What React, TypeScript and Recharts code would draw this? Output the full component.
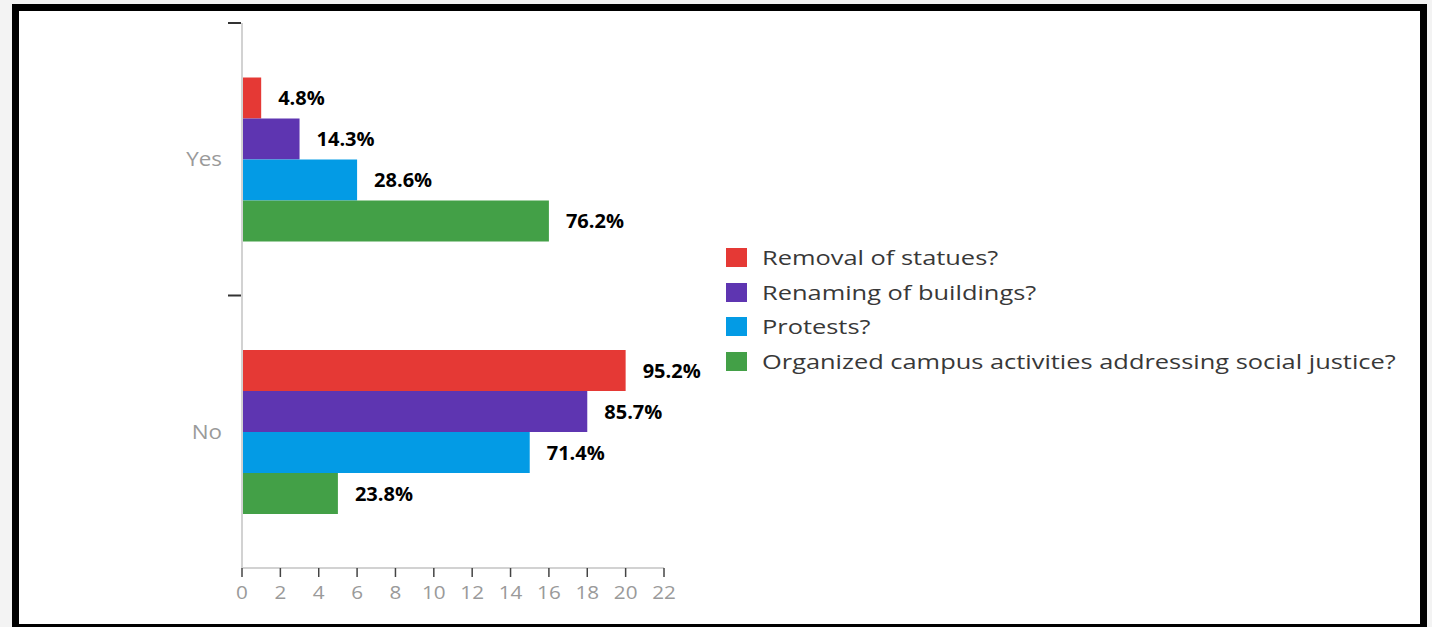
import { BarChart, Bar, XAxis, YAxis, LabelList, Legend } from 'recharts';

// survey answers, 21 respondents
const categories = ['Yes', 'No'];
const seriesNames = [
  'Removal of statues?',
  'Renaming of buildings?',
  'Protests?',
  'Organized campus activities addressing social justice?',
];
const removalCounts = [1, 20];
const renamingCounts = [3, 18];
const protestCounts = [6, 15];
const activityCounts = [16, 5];
const removalPct = ['4.8%', '95.2%'];
const renamingPct = ['14.3%', '85.7%'];
const protestPct = ['28.6%', '71.4%'];
const activityPct = ['76.2%', '23.8%'];
const xTicks = [0, 2, 4, 6, 8, 10, 12, 14, 16, 18, 20, 22];

const seriesColors = ['#E53935', '#5E35B1', '#039BE5', '#43A047'];
const seriesKeys = ['removal', 'renaming', 'protest', 'activity'];

const data = categories.map((cat, i) => ({
  cat,
  removal: removalCounts[i],
  renaming: renamingCounts[i],
  protest: protestCounts[i],
  activity: activityCounts[i],
  removalPct: removalPct[i],
  renamingPct: renamingPct[i],
  protestPct: protestPct[i],
  activityPct: activityPct[i],
}));

const FONT = '"Open Sans", sans-serif';
const AXIS_GREY = '#d2d2d2';
const TICK_TEXT = '#9a9a9a';
const CAT_MARGIN = 20;

// category label + the short dark tick at the top edge of each band
function CategoryTick(props: any) {
  const { x, y, payload } = props;
  const axisX = x + CAT_MARGIN;
  const edgeY = y - (payload.offset || 0);
  return (
    <g>
      <line x1={axisX - 14} x2={axisX - 1} y1={edgeY} y2={edgeY} stroke="#333" strokeWidth={2} />
      <g transform={`translate(${x},${y}) scale(1.12,1)`}>
        <text x={0} y={0} dy="0.35em" textAnchor="end" fill={TICK_TEXT} fontSize={20} fontFamily={FONT}>
          {payload.value}
        </text>
      </g>
    </g>
  );
}

function NumberTick(props: any) {
  const { x, y, payload } = props;
  return (
    <g transform={`translate(${x},${y}) scale(1.15,1)`}>
      <text x={0} y={0} dy="0.35em" textAnchor="middle" fill={TICK_TEXT} fontSize={18} fontFamily={FONT}>
        {payload.value}
      </text>
    </g>
  );
}

function renderLegend() {
  return (
    <div style={{ fontFamily: FONT }}>
      {seriesNames.map((name, i) => (
        <div key={name} style={{ display: 'flex', alignItems: 'center', height: 34.7 }}>
          <span
            style={{
              display: 'inline-block',
              width: 21,
              height: 19,
              background: seriesColors[i],
              marginRight: 15,
              flexShrink: 0,
            }}
          />
          <span
            style={{
              display: 'inline-block',
              fontSize: 20,
              color: '#383838',
              whiteSpace: 'nowrap',
              transform: 'scaleX(1.27)',
              transformOrigin: 'left center',
            }}
          >
            {name}
          </span>
        </div>
      ))}
    </div>
  );
}

export default function App() {
  return (
    <div
      style={{
        position: 'absolute',
        left: 0,
        top: 0,
        width: 1432,
        height: 627,
        overflow: 'hidden',
        background: '#f3f3f3',
      }}
    >
      <div
        style={{
          position: 'absolute',
          left: 12,
          top: 4,
          width: 1415,
          height: 627,
          boxSizing: 'border-box',
          border: '7px solid #000',
          background: '#fff',
        }}
      />
      <div style={{ position: 'absolute', left: 0, top: 0 }}>
        <BarChart
          width={1432}
          height={627}
          data={data}
          layout="vertical"
          margin={{ top: 23, right: 768, bottom: 19, left: 0 }}
          barCategoryGap="20%"
          barGap={0}
        >
          <XAxis
            type="number"
            domain={[0, 22]}
            ticks={xTicks}
            interval={0}
            height={40}
            axisLine={{ stroke: AXIS_GREY, strokeWidth: 2 }}
            tickLine={{ stroke: '#444', strokeWidth: 1.5 }}
            tickSize={9}
            tickMargin={16}
            tick={<NumberTick />}
          />
          <YAxis
            type="category"
            dataKey="cat"
            width={242}
            axisLine={{ stroke: AXIS_GREY, strokeWidth: 2 }}
            tickLine={false}
            tickSize={0}
            tickMargin={CAT_MARGIN}
            tick={<CategoryTick />}
          />
          <Legend
            layout="vertical"
            align="center"
            verticalAlign="middle"
            wrapperStyle={{ left: 726, top: 240, width: 700 }}
            content={renderLegend}
          />
          {seriesKeys.map((key, i) => (
            <Bar key={key} dataKey={key} name={seriesNames[i]} fill={seriesColors[i]} isAnimationActive={false}>
              <LabelList
                dataKey={`${key}Pct`}
                position="right"
                offset={17}
                fill="#000"
                fontSize={20}
                fontWeight={700}
                fontFamily={FONT}
              />
            </Bar>
          ))}
        </BarChart>
      </div>
    </div>
  );
}
